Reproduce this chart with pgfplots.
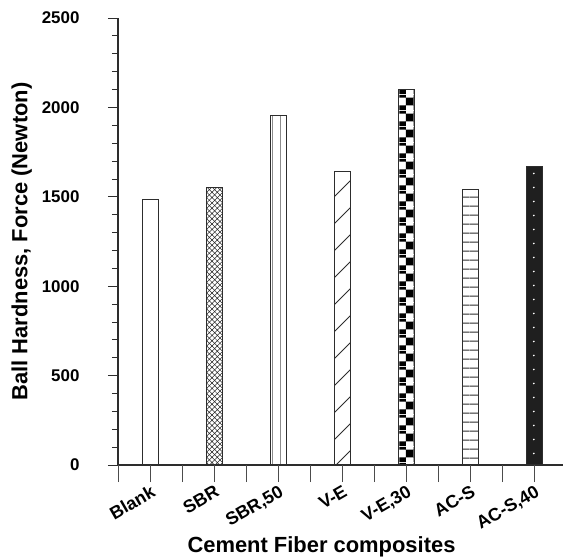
\documentclass[border=0pt]{standalone}
\usepackage{fontspec}
\setmainfont{Liberation Sans}
\usepackage{pgfplots}
\pgfplotsset{compat=1.18}
\usetikzlibrary{patterns}
\definecolor{lc}{RGB}{45,45,45}
% crosshatch
\pgfdeclarepatternformonly{xhatch}{\pgfqpoint{-0.5bp}{-0.5bp}}{\pgfqpoint{5.8bp}{5.8bp}}{\pgfqpoint{5.3bp}{5.3bp}}{%
  \pgfsetlinewidth{0.5bp}%
  \pgfpathmoveto{\pgfqpoint{-0.5bp}{-0.5bp}}\pgfpathlineto{\pgfqpoint{5.8bp}{5.8bp}}%
  \pgfpathmoveto{\pgfqpoint{-0.5bp}{5.8bp}}\pgfpathlineto{\pgfqpoint{5.8bp}{-0.5bp}}%
  \pgfusepath{stroke}}
% sparse vertical lines
\pgfdeclarepatternformonly{vlines}{\pgfqpoint{-1bp}{0bp}}{\pgfqpoint{7bp}{8bp}}{\pgfqpoint{8bp}{8bp}}{%
  \pgfsetlinewidth{1bp}%
  \pgfpathmoveto{\pgfqpoint{0bp}{0bp}}\pgfpathlineto{\pgfqpoint{0bp}{8bp}}%
  \pgfusepath{stroke}}
% sparse diagonal lines
\pgfdeclarepatternformonly{dlines}{\pgfqpoint{-1bp}{-1bp}}{\pgfqpoint{28bp}{28bp}}{\pgfqpoint{27bp}{27bp}}{%
  \pgfsetlinewidth{0.9bp}%
  \pgfpathmoveto{\pgfqpoint{-1bp}{-1bp}}\pgfpathlineto{\pgfqpoint{28bp}{28bp}}%
  \pgfusepath{stroke}}
% checkerboard (phase-shifted)
\pgfdeclarepatternformonly{checker}{\pgfqpoint{0bp}{0bp}}{\pgfqpoint{16bp}{16bp}}{\pgfqpoint{16bp}{16bp}}{%
  \pgfpathrectangle{\pgfqpoint{6bp}{5bp}}{\pgfqpoint{8bp}{8bp}}%
  \pgfpathrectangle{\pgfqpoint{14bp}{13bp}}{\pgfqpoint{2bp}{3bp}}%
  \pgfpathrectangle{\pgfqpoint{14bp}{0bp}}{\pgfqpoint{2bp}{5bp}}%
  \pgfpathrectangle{\pgfqpoint{0bp}{13bp}}{\pgfqpoint{6bp}{3bp}}%
  \pgfpathrectangle{\pgfqpoint{0bp}{0bp}}{\pgfqpoint{6bp}{5bp}}%
  \pgfusepath{fill}}
% horizontal lines
\pgfdeclarepatternformonly{hlines}{\pgfqpoint{0bp}{0bp}}{\pgfqpoint{8.7bp}{8.7bp}}{\pgfqpoint{8.7bp}{8.7bp}}{%
  \pgfsetlinewidth{0.9bp}%
  \pgfpathmoveto{\pgfqpoint{0bp}{4bp}}\pgfpathlineto{\pgfqpoint{8.7bp}{4bp}}%
  \pgfusepath{stroke}}
% white dots
\pgfdeclarepatternformonly{wdots}{\pgfqpoint{0bp}{0bp}}{\pgfqpoint{16bp}{14bp}}{\pgfqpoint{16bp}{14bp}}{%
  \pgfpathcircle{\pgfqpoint{6bp}{7bp}}{1bp}%
  \pgfusepath{fill}}
\pgfplotsset{
  common/.style={
    scale only axis, width=445bp, height=447bp,
    xmin=0.5, xmax=7.45, ymin=0, ymax=2500,
    axis line style={lc, line width=1.3bp, -},
  }
}
\begin{document}
\begin{tikzpicture}
\begin{axis}[
  common,
  axis x line*=bottom, axis y line*=left,
  ybar, bar width=0.25,
  xtick=\empty,
  ytick align=outside,
  ytick={0,500,...,2500}, minor y tick num=4,
  major tick length=10bp, minor tick length=6bp,
  ytick style={lc, line width=0.8bp},
  yticklabel style={font=\bfseries\fontsize{17}{17}\selectfont, xshift=-25bp},
  /pgf/number format/assume math mode=true,
  /pgf/number format/set thousands separator={},
  ylabel={Ball Hardness, Force (Newton)},
  ylabel style={font=\bfseries\fontsize{22}{22}\selectfont, yshift=3bp},
  every axis plot/.append style={draw=lc, line width=1bp, bar shift=0},
]
\addplot[fill=white] coordinates {(1,1485)};
\addplot[fill=white, postaction={pattern=xhatch, pattern color=lc}] coordinates {(2,1550)};
\addplot[fill=white, postaction={pattern=vlines, pattern color=black!45}] coordinates {(3,1955)};
\addplot[fill=white, postaction={pattern=dlines, pattern color=lc}] coordinates {(4,1640)};
\addplot[fill=white, postaction={pattern=checker, pattern color=black}] coordinates {(5,2100)};
\addplot[fill=white, postaction={pattern=hlines, pattern color=lc}] coordinates {(6,1540)};
\addplot[fill=black!88, postaction={pattern=wdots, pattern color=white}] coordinates {(7,1670)};
\coordinate (O) at (rel axis cs:0,0);
\end{axis}
% x axis with long ticks and category labels (drawn on top)
\begin{axis}[
  common, clip=false,
  axis x line*=bottom, axis y line=none,
  xtick pos=bottom,
  xtick align=outside,
  xtick={0.5,1,...,7},
  xticklabels={,Blank,,SBR,,{SBR,50},,V-E,,{V-E,30},,AC-S,,{AC-S,40}},
  major tick length=17bp,
  xtick style={draw=black!70, line width=1bp},
  xticklabel style={font=\bfseries\fontsize{18}{18}\selectfont, rotate=30, anchor=north east, inner sep=1bp, yshift=-1bp},
  xlabel={Cement Fiber composites},
  xlabel style={font=\bfseries\fontsize{22}{22}\selectfont, xshift=-19bp, yshift=0bp},
]
\addplot[ycomb, no marks, draw=black!70, line width=1bp] coordinates {
  (0.5,-95) (1,-95) (1.5,-95) (2,-95) (2.5,-95) (3,-95) (3.5,-95)
  (4,-95) (4.5,-95) (5,-95) (5.5,-95) (6,-95) (6.5,-95) (7,-95)};
\end{axis}
\pgfresetboundingbox
\path ([xshift=-118bp,yshift=-93bp]O) rectangle ([xshift=445bp,yshift=465bp]O);
\end{tikzpicture}
\end{document}
